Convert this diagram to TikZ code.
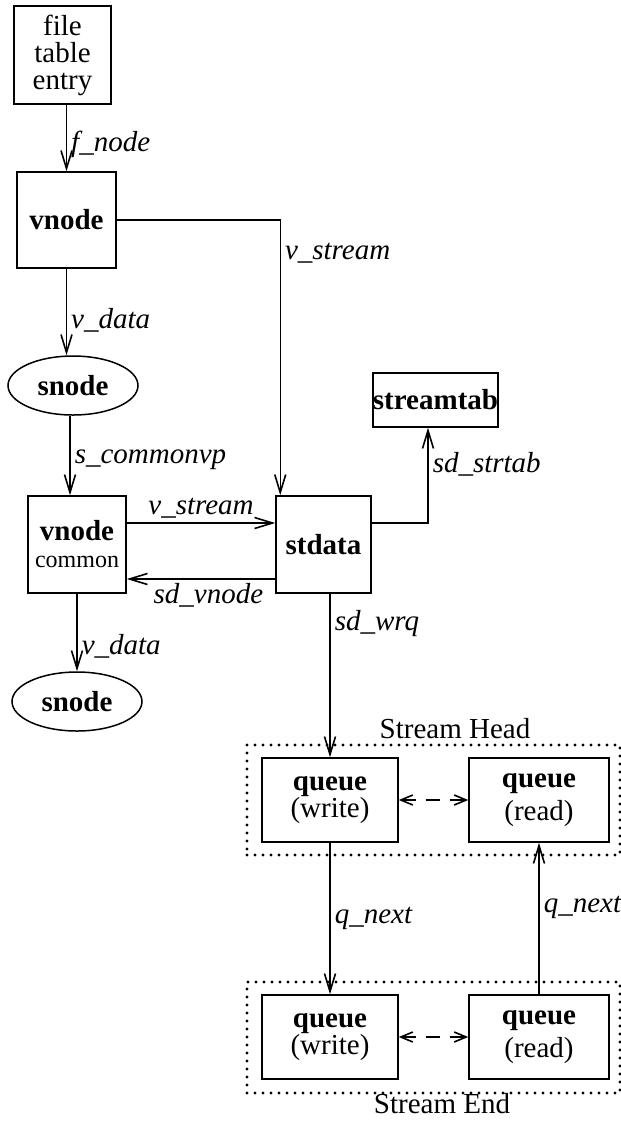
\documentclass[tikz,border=0pt]{standalone}
\usepackage{fontspec}
\setmainfont{Liberation Serif}
\usetikzlibrary{arrows.meta}
\usetikzlibrary{shapes.geometric}

\tikzset{
	box/.style={draw, line width=0.75pt, inner sep=0pt, align=center},
	ell/.style={draw, ellipse, line width=0.75pt, inner sep=0pt, minimum width=65pt, minimum height=29.5pt},
	lbl/.style={font=\fontsize{14.5}{13}\selectfont\itshape, inner sep=2pt},
	ptr/.style={line width=0.75pt, -{Straight Barb[length=9pt,width=5.5pt,line width=0.8pt]}},
	pair/.style={line width=0.8pt, dash pattern=on 7pt off 5pt, {Straight Barb[length=6pt,width=5pt]}-{Straight Barb[length=6pt,width=5pt]}},
	dotbox/.style={draw, line width=1.6pt, line cap=round, dash pattern=on 0pt off 4pt, inner sep=0pt}
}

\begin{document}
\begin{tikzpicture}[x=0.5pt,y=-0.5pt,font=\fontsize{14.5}{13.5}\selectfont]
	\useasboundingbox (0,0) rectangle (621,1121);

	% left column
	\node[box, minimum width=48.5pt, minimum height=49pt] (fte) at (62.5,55) {file\\table\\entry};
	\node[box, minimum width=49.5pt, minimum height=48pt] (vnode) at (66.5,220) {\textbf{vnode}};
	\node[ell] (snode) at (73,385.5) {\textbf{snode}};
	\node[box, minimum width=49pt, minimum height=48.5pt] (vcommon) at (77,544.5) {\textbf{vnode}\\{\fontsize{12}{12}\selectfont common}};
	\node[ell] (snodeb) at (77,701.5) {\textbf{snode}};

	% stream data
	\node[box, minimum width=47.5pt, minimum height=48.5pt] (stdata) at (323.5,544.5) {\textbf{stdata}};
	\node[box, minimum width=62.5pt, minimum height=27pt] (stab) at (435.5,400) {\textbf{streamtab}};

	% queues
	\node[dotbox, minimum width=186.5pt, minimum height=55pt] (head) at (433.5,800) {};
	\node[dotbox, minimum width=186.5pt, minimum height=55.5pt] (tail) at (433.5,1037.5) {};
	\node (headlbl) at (455,729) {Stream Head};
	\node (taillbl) at (442,1104) {Stream End};
	\node[box, minimum width=68pt, minimum height=42pt] (hw) at (330,800) {\textbf{queue}\\(write)};
	\node[box, minimum width=70pt, minimum height=42pt] (hr) at (539,800) {\textbf{queue}\\[3pt](read)};
	\node[box, minimum width=68pt, minimum height=42pt] (ew) at (330,1037) {\textbf{queue}\\(write)};
	\node[box, minimum width=70pt, minimum height=42pt] (er) at (539,1037) {\textbf{queue}\\[3pt](read)};

	% pointers
	\draw[ptr] (fte.south -| vnode.north) -- node[lbl, right, pos=0.6] {f\_node} (vnode.north);
	\draw[ptr] (vnode.south) -- node[lbl, right, pos=0.6] {v\_data} (vnode.south |- snode.north);
	\draw[ptr] ([xshift=-1.5pt]snode.south) -- node[lbl, right, pos=0.55] {s\_commonvp} ([xshift=-1.5pt]snode.south |- vcommon.north);
	\draw[ptr] (vcommon.south) -- node[lbl, right, pos=0.68] {v\_data} (snodeb.north);
	\draw[ptr] (vnode.east) -| node[lbl, right, pos=0.56] {v\_stream} ([xshift=2.5pt]stdata.north west);
	\draw[ptr] ([yshift=10.75pt]vcommon.east) -- node[lbl, above] {v\_stream} ([yshift=10.75pt]vcommon.east -| stdata.west);
	\draw[ptr] ([yshift=-17.25pt]stdata.west) -- node[lbl, below, pos=0.45] {sd\_vnode} ([yshift=-17.25pt]stdata.west -| vcommon.east);
	\draw[ptr] ([yshift=10.75pt]stdata.east) -| node[lbl, right, pos=0.81] {sd\_strtab} ([xshift=-3.75pt]stab.south);
	\draw[ptr] (stdata.south -| hw.north) -- node[lbl, right, pos=0.18] {sd\_wrq} (hw.north);
	\draw[ptr] (hw.south) -- node[lbl, right] {q\_next} (ew.north);
	\draw[ptr] (er.north) -- node[lbl, right, pos=0.57] {q\_next} (hr.south);
	\draw[pair] (hw.east) -- (hr.west);
	\draw[pair] (ew.east) -- (er.west);

\end{tikzpicture}
\end{document}
